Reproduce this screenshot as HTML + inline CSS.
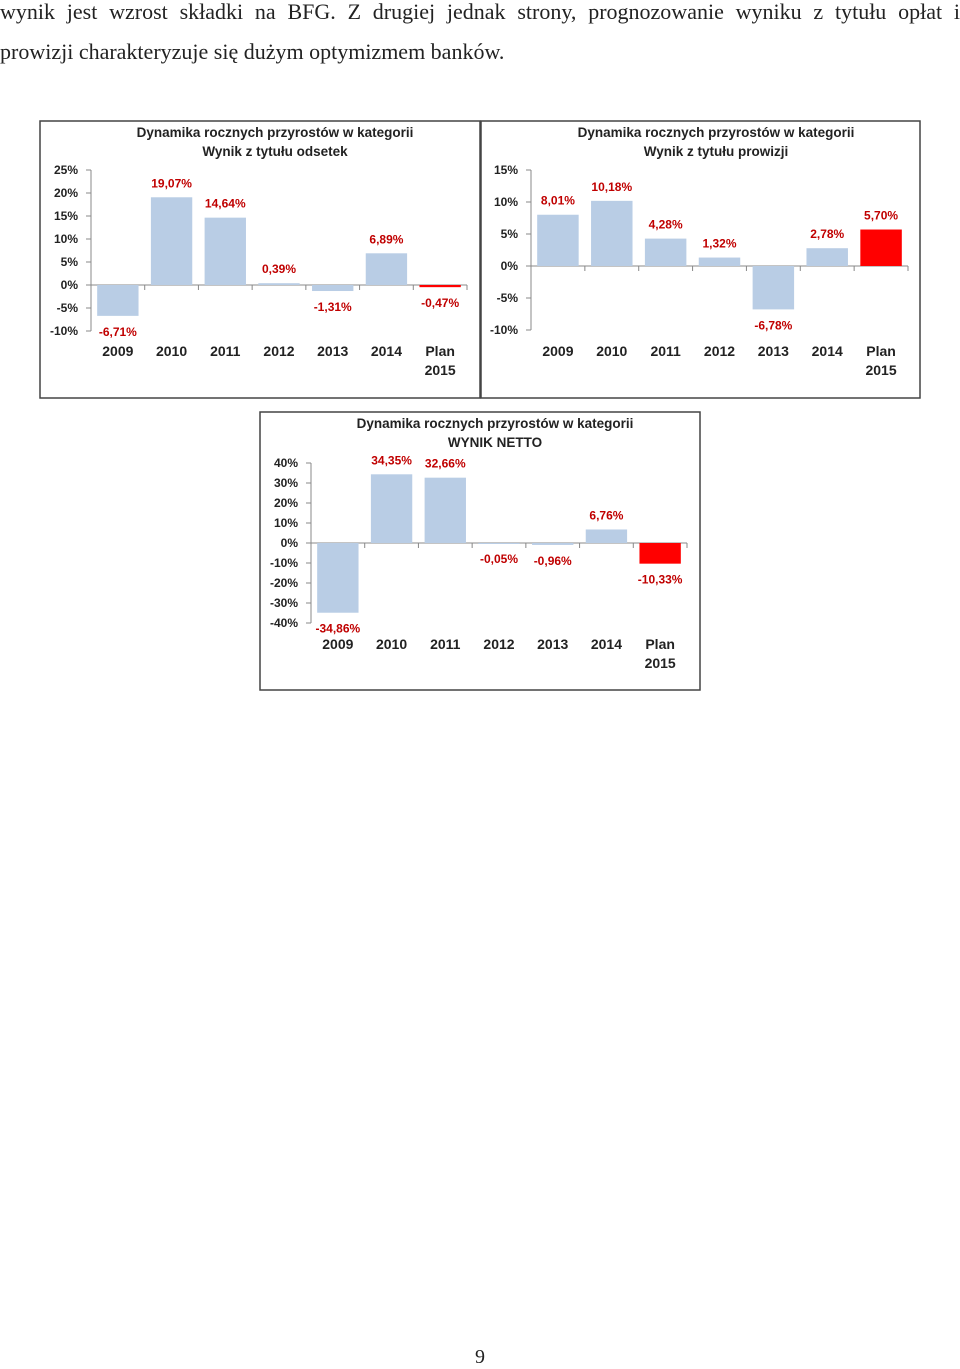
<!DOCTYPE html>
<html><head><meta charset="utf-8"><style>
body{margin:0;width:960px;height:1364px;background:#fff;position:relative;overflow:hidden;font-family:"Liberation Sans",sans-serif}
.txt{position:absolute;left:0;width:960px;font-family:"Liberation Serif",serif;font-size:22px;color:#222;white-space:nowrap}
svg{position:absolute;left:0;top:0}
</style></head><body>
<div class="txt" style="top:-1px;text-align:justify;text-align-last:justify;">wynik jest wzrost składki na BFG. Z drugiej jednak strony, prognozowanie wyniku z tytułu opłat i</div>
<div class="txt" style="top:39px;">prowizji charakteryzuje się dużym optymizmem banków.</div>
<div class="txt" style="top:1346px;text-align:center;font-size:20px">9</div>
<svg id="s" width="960" height="1364"></svg>
<script>
const categories=["2009","2010","2011","2012","2013","2014","Plan|2015"];
const valuesOdsetek=[-6.71,19.07,14.64,0.39,-1.31,6.89,-0.47];
const valuesProwizji=[8.01,10.18,4.28,1.32,-6.78,2.78,5.70];
const valuesNetto=[-34.86,34.35,32.66,-0.05,-0.96,6.76,-10.33];
const ticksOdsetek=[25,20,15,10,5,0,-5,-10];
const ticksProwizji=[15,10,5,0,-5,-10];
const ticksNetto=[40,30,20,10,0,-10,-20,-30,-40];
const NS="http://www.w3.org/2000/svg";
const svg=document.getElementById('s');
function mk(tag,attrs,parent){const e=document.createElementNS(NS,tag);for(const k in attrs)e.setAttribute(k,attrs[k]);(parent||svg).appendChild(e);return e;}
function fmt(v){return v.toFixed(2).replace('.',',')+'%';}
function chart(o){
  const g=mk('g',{});
  
  
  const fr=mk('rect',{x:o.box[0],y:o.box[1],width:o.box[2],height:o.box[3],fill:'#fff',stroke:'#444','stroke-width':1.5},g);
  
  
  o.title.forEach((t,i)=>{const e=mk('text',{x:o.titleX,y:o.box[1]+16+i*19,'text-anchor':'middle','font-size':13.5,'font-weight':'bold',fill:'#222'},g);e.textContent=t;
    
    });
  const yMax=o.ticks[0],yMin=o.ticks[o.ticks.length-1];
  const y=v=>o.yTop+(yMax-v)*(o.yBot-o.yTop)/(yMax-yMin);
  const n=categories.length,cw=(o.x1-o.x0)/n;
  const x=i=>o.x0+cw*(i+0.5);
  mk('line',{x1:o.x0,y1:y(yMax),x2:o.x0,y2:y(yMin),stroke:'#888'},g);
  o.ticks.forEach(t=>{mk('line',{x1:o.x0-5,y1:y(t),x2:o.x0,y2:y(t),stroke:'#888'},g);
    const e=mk('text',{x:o.x0-13,y:y(t)+4,'text-anchor':'end','font-size':12,'font-weight':'bold',fill:'#222'},g);e.textContent=t+'%';
    
    });
  mk('line',{x1:o.x0,y1:y(0),x2:o.x1,y2:y(0),stroke:'#888'},g);
  for(let i=0;i<=n;i++)mk('line',{x1:o.x0+cw*i,y1:y(0),x2:o.x0+cw*i,y2:y(0)+5,stroke:'#888'},g);
  o.vals.forEach((v,i)=>{
    const bw=cw*0.77,top=y(Math.max(v,0)),bot=y(Math.min(v,0));
    const b=mk('rect',{x:x(i)-bw/2,y:top,width:bw,height:Math.max(bot-top,1),fill:i==n-1?'#ff0000':'#b9cde5'},g);
    
    
    const ly=v>=0?top-10:bot+20;
    const l=mk('text',{x:x(i),y:ly,'text-anchor':'middle','font-size':12,'font-weight':'bold',fill:'#c00000'},g);l.textContent=fmt(v);
    
    
    categories[i].split('|').forEach((s,k)=>{const c=mk('text',{x:x(i),y:o.catY+k*19,'text-anchor':'middle','font-size':14,'font-weight':'bold',fill:'#222'},g);c.textContent=s;
      
      });
  });
}
chart({name:'chart-odsetek',box:[40,121,440,277],titleX:275,title:['Dynamika rocznych przyrostów w kategorii','Wynik z tytułu odsetek'],ticks:ticksOdsetek,vals:valuesOdsetek,yTop:170,yBot:331,x0:91,x1:467,catY:356});
chart({name:'chart-prowizji',box:[481,121,439,277],titleX:716,title:['Dynamika rocznych przyrostów w kategorii','Wynik z tytułu prowizji'],ticks:ticksProwizji,vals:valuesProwizji,yTop:170,yBot:330,x0:531,x1:908,catY:356});
chart({name:'chart-netto',box:[260,412,440,278],titleX:495,title:['Dynamika rocznych przyrostów w kategorii','WYNIK  NETTO'],ticks:ticksNetto,vals:valuesNetto,yTop:463,yBot:623,x0:311,x1:687,catY:649});
</script>
</body></html>
